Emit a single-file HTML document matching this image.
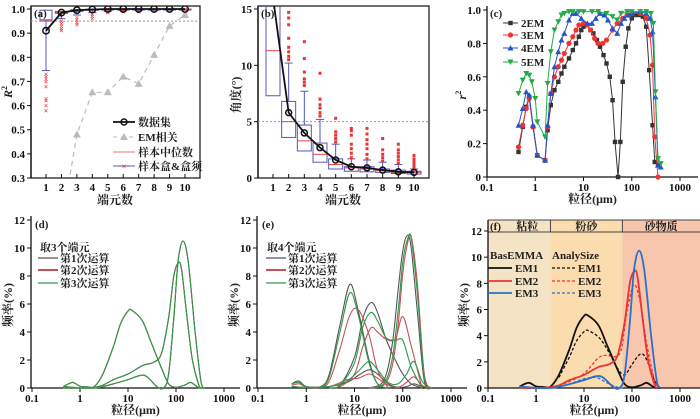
<!DOCTYPE html>
<html><head><meta charset="utf-8"><style>
html,body{margin:0;padding:0;background:#fff;}
svg{display:block;font-family:"Liberation Serif","Noto Serif CJK SC",serif;}
.tk{font-size:11px;font-weight:bold;fill:#111;}
.lb{font-size:12px;font-weight:bold;fill:#222;}
.lg{font-size:11px;font-weight:bold;fill:#222;}
.ox{font-size:8px;font-weight:bold;fill:#e33;}
</style></head><body>
<svg id="fig" width="700" height="419" viewBox="0 0 700 419" xmlns="http://www.w3.org/2000/svg"></svg>
<script>
// ---------- DATA ----------
// (a)
const aCats=[1,2,3,4,5,6,7,8,9,10];
const aData=[0.91,0.985,0.995,0.998,1.0,1.0,1.0,1.0,1.0,1.0];
const aEM=[0.0,0.1,0.48,0.655,0.655,0.72,0.69,0.81,0.93,0.975];
const aQ1=[0.955,0.982,0.99,0.995,0.997,0.998,0.998,0.999,0.999,0.999];
const aMed=[0.95,0.985,0.993,0.997,0.998,0.999,0.999,0.999,1.0,1.0];
const aQ3=[0.995,0.99,0.997,0.999,1.0,1.0,1.0,1.0,1.0,1.0];
const aWlo=[0.745,0.96,0.975,0.985,0.99,0.993,0.994,0.995,0.996,0.997];
const aOut=[[0.58,0.6,0.62,0.63,0.68,0.7,0.71,0.72,0.73],[0.91,0.92,0.93,0.94,0.95],[0.935,0.945,0.955,0.965],[0.96,0.97,0.98],[0.985,0.99],[0.99,0.995],[0.99,0.995],[0.995],[0.995],[0.997]];
// (b)
const bCats=[1,2,3,4,5,6,7,8,9,10];
const bData=[16,5.8,4.0,2.7,1.6,1.0,0.9,0.7,0.55,0.5];
const bQ1=[7.3,3.6,2.4,1.4,0.8,0.6,0.55,0.5,0.4,0.35];
const bMed=[11.3,5.0,3.3,2.1,1.2,0.9,0.8,0.65,0.5,0.5];
const bQ3=[16,6.8,4.7,3.1,1.7,1.0,1.0,0.8,0.7,0.6];
const bWhi=[16,10.2,7.7,5.2,3.0,1.7,1.6,1.4,1.2,0.8];
const bOut=[[],[10.5,10.8,11.2,11.6,12.4,13.6,14.2,14.7],[8.2,8.5,8.8,9.4,10.6,12.1],[5.5,5.8,6.2,6.5,7.0,9.3],[3.2,3.5,3.8,4.1,5.3],[1.8,2.2,2.6,3.0,3.8,4.2,4.4],[1.7,2.1,2.6,3.0,3.4,3.9,4.4],[1.5,1.8,2.1,2.5,3.5],[1.3,1.6,1.9,2.2,2.5,3.0],[0.9,1.1,1.3,1.5,1.7,2.0]];
// (c)
const c2x=[0.45,0.55,0.65,0.75,0.9,1.1,1.6,1.8,2.1,2.5,3,3.5,4,5,6,7,8,9,10,12,14,16,19,22,26,30,35,40,45,52,58,65,75,85,100,115,140,170,200,230,270,300,350];
const c2y=[0.15,0.3,0.42,0.48,0.3,0.13,0.1,0.28,0.43,0.52,0.57,0.62,0.66,0.71,0.76,0.8,0.84,0.88,0.9,0.91,0.88,0.86,0.82,0.78,0.73,0.68,0.6,0.46,0.21,0,0.21,0.57,0.78,0.89,0.95,0.97,0.97,0.96,0.9,0.64,0.31,0.09,0.07];
const c3x=[0.45,0.55,0.65,0.75,0.9,1.1,1.6,1.8,2.1,2.5,3,3.5,4,5,6,7,8,10,12,14,17,20,25,30,40,50,65,80,100,150,200,240,270,300,350];
const c3y=[0.18,0.31,0.41,0.47,0.3,0.13,0.1,0.3,0.5,0.6,0.66,0.7,0.74,0.8,0.84,0.88,0.91,0.92,0.91,0.88,0.83,0.8,0.8,0.82,0.88,0.92,0.95,0.97,0.98,0.98,0.95,0.85,0.67,0.24,0.0];
const c4x=[0.45,0.55,0.65,0.75,0.9,1.1,1.6,1.8,2.1,2.5,3,3.5,4,5,6,7,9,12,15,18,22,27,32,40,50,60,70,85,100,150,200,240,270,310,350,400];
const c4y=[0.31,0.41,0.51,0.49,0.31,0.13,0.1,0.31,0.5,0.66,0.75,0.82,0.86,0.94,0.98,0.98,0.95,0.92,0.92,0.95,0.98,0.97,0.94,0.89,0.86,0.92,0.95,0.97,0.98,0.99,0.98,0.95,0.87,0.48,0.07,0.06];
const c5x=[0.45,0.55,0.65,0.75,0.85,1,1.1,1.6,1.8,2.1,2.5,3,3.5,4,5,6,8,10,15,20,30,40,50,60,80,100,150,200,250,280,310,350,400];
const c5y=[0.5,0.58,0.62,0.61,0.57,0.47,0.33,0.24,0.56,0.75,0.88,0.93,0.97,0.98,0.99,0.99,0.99,0.99,0.99,0.99,0.98,0.96,0.94,0.98,0.99,0.99,0.99,0.99,0.98,0.92,0.51,0.11,0.08];
// (d) / (f) base end-members
const em1x=[0.45,0.7,1,1.5,2,3,5,7,10,12,20,30,50,70,100,150,200,250,300,400];
const em1y=[0.1,0.4,0.12,0.08,0.1,1.0,3.0,4.6,5.5,5.55,4.8,3.3,1.4,0.3,0.05,0.2,0.4,0.2,0.02,0];
const em2x=[0.45,1,2,3,5,10,20,35,50,70,90,110,130,170,220,300,350];
const em2y=[0,0,0.05,0.2,0.6,1.0,1.6,1.85,2.5,5,8,8.9,8.5,5,2,0.2,0];
const em3x=[0.45,0.7,1,2,3,5,10,18,25,40,55,70,90,110,140,180,250,330,400];
const em3y=[0.1,0.05,0,0,0.1,0.3,0.6,0.9,0.8,0.1,0,1,5,9,10.5,9,4,0.5,0];
const dm1x=[3,5,7,10,12,20,30,50,70,100,150,200,300,400];
const dm1y=[0.8,2.4,3.6,4.3,4.4,3.9,3,1.5,1.0,1.8,2.6,2.2,0.5,0];
const dm2x=[3,5,10,20,30,45,60,80,110,150,200,300,400];
const dm2y=[0.2,0.5,1.1,2.3,2.5,2.4,3,6,7.9,6.5,3.5,0.5,0];
const dm3x=[3,5,10,18,30,50,70];
const dm3y=[0.1,0.3,0.7,0.8,0.4,0.05,0];
// (e) four end-members, three runs
const eAx=[0.5,0.7,1,2,3,5,8,12,20,30,50];
const eR1A=[0.3,0.5,0.1,0.1,1.0,4.5,7.4,5.5,2.0,0.3,0];
const eR2A=[0.2,0.3,0.1,0.1,0.5,2.8,5.2,5.6,3.8,1.3,0];
const eR3A=[0.3,0.4,0.1,0.1,0.8,4.0,6.8,5.2,1.8,0.3,0];
const eBx=[3,5,10,15,22,30,45,70,100,150,250];
const eR1B=[0,0.2,2.2,5.0,6.1,5.4,3.5,2.0,1.0,0.3,0];
const eR2B=[0,0.1,1.0,3.0,4.3,4.0,3.5,3.5,5.1,3.0,0];
const eR3B=[0,0.2,1.8,4.4,5.4,4.8,3.6,3.4,3.4,1.5,0];
const eCx=[20,40,60,80,100,125,150,200,280,400];
const eR1C=[0,0.5,3.0,7.0,9.8,10.9,10.0,5.5,0.5,0];
const eR2C=[0,0.2,1.5,4.5,8.2,10.3,10.8,7.5,1.0,0];
const eR3C=[0,0.3,2.0,5.5,9.0,10.6,10.7,6.8,0.8,0];
const eDx=[0.5,1,3,7,12,20,30,50,80,120,170,250,350];
const eR1D=[0.1,0.05,0.1,0.4,0.9,1.3,1.0,0.3,0.05,0.1,0.3,0.1,0];
const eR2D=[0.1,0.05,0.1,0.6,0.7,1.0,0.7,0.2,0.05,0.4,0.8,0.2,0];
const eR3D=[0.1,0.05,0.1,0.5,1.2,1.9,1.3,0.4,0.3,1.0,1.9,0.5,0];

// ---------- HELPERS ----------
const NS="http://www.w3.org/2000/svg";
const svg=document.getElementById('fig');
function mk(tag,attrs,parent){const e=document.createElementNS(NS,tag);for(const k in attrs)e.setAttribute(k,attrs[k]);(parent||svg).appendChild(e);return e;}
function txt(x,y,s,cls,parent,extra){const t=mk('text',Object.assign({x:x,y:y,class:cls},extra||{}),parent);t.textContent=s;return t;}
function lin(d0,d1,r0,r1){return v=>r0+(v-d0)/(d1-d0)*(r1-r0);}
function logs(r0,r1){return v=>r0+(Math.log10(v)+1)/4*(r1-r0);}
function smooth(pts){let d='M'+pts[0][0].toFixed(1)+','+pts[0][1].toFixed(1);for(let i=0;i<pts.length-1;i++){const p0=pts[i-1]||pts[i],p1=pts[i],p2=pts[i+1],p3=pts[i+2]||p2;const c1=[p1[0]+(p2[0]-p0[0])/6,p1[1]+(p2[1]-p0[1])/6],c2=[p2[0]-(p3[0]-p1[0])/6,p2[1]-(p3[1]-p1[1])/6];d+='C'+c1[0].toFixed(1)+','+c1[1].toFixed(1)+' '+c2[0].toFixed(1)+','+c2[1].toFixed(1)+' '+p2[0].toFixed(1)+','+p2[1].toFixed(1);}return d;}
function curve(g,xs,ys,sx,sy,color,w,dash,base){const pts=xs.map((x,i)=>[sx(x),Math.min(sy(ys[i]),base)]);const p=mk('path',{d:smooth(pts),fill:'none',stroke:color,'stroke-width':w,'stroke-dasharray':dash||'none'},g);return p;}
function clip(id,x,y,w,h){const c=mk('clipPath',{id:id});mk('rect',{x:x,y:y,width:w,height:h},c);}
function logAxis(g,sx,y0,x0,x1,ttl){mk('line',{x1:x0,y1:y0,x2:x1,y2:y0,stroke:'#111','stroke-width':1.3},g);const labs=['0.1','1','10','100','1000'];[0.1,1,10,100,1000].forEach((v,i)=>{mk('line',{x1:sx(v),y1:y0,x2:sx(v),y2:y0+4,stroke:'#111'},g);txt(sx(v),y0+14,labs[i],'tk',g,{'text-anchor':'middle'});});txt((x0+x1)/2,y0+26,ttl,'lb',g,{'text-anchor':'middle'});}
function yAxis(g,sy,x0,y0,y1,ticks,labels){mk('line',{x1:x0,y1:y0,x2:x0,y2:y1,stroke:'#111','stroke-width':1.3},g);ticks.forEach((v,i)=>{mk('line',{x1:x0-4,y1:sy(v),x2:x0,y2:sy(v),stroke:'#111'},g);txt(x0-6,sy(v)+4,labels[i],'tk',g,{'text-anchor':'end'});});}
function supLabel(g,x,y,base,sup){const t=mk('text',{x:x,y:y,class:'lb','font-style':'italic','text-anchor':'middle',transform:`rotate(-90 ${x} ${y})`},g);t.appendChild(document.createTextNode(base));const s=mk('tspan',{'font-size':'8','dy':'-5','font-style':'normal'},t);s.textContent=sup;return t;}

// ---------- PANEL A ----------
(function(){
const g=mk('g',{});
const sx=lin(1,10,46,185),sy=lin(0.3,1.0,178,9);
clip('ca',31,6,169,172);
mk('rect',{x:31,y:6,width:169,height:172,fill:'none',stroke:'#222','stroke-width':1.3},g);
const yt=[0.3,0.4,0.5,0.6,0.7,0.8,0.9,1.0];yAxis(g,sy,31,178,6,yt,yt.map(v=>v.toFixed(1)));
aCats.forEach(c=>{mk('line',{x1:sx(c),y1:178,x2:sx(c),y2:174,stroke:'#111'},g);txt(sx(c),191,String(c),'tk',g,{'text-anchor':'middle'});});
txt(115,204,'端元数','lb',g,{'text-anchor':'middle'});
supLabel(g,12,92,'R','2');
const pc=mk('g',{'clip-path':'url(#ca)'},g);
mk('line',{x1:31,y1:sy(0.95),x2:200,y2:sy(0.95),stroke:'#999','stroke-dasharray':'2,2'},pc);
mk('polyline',{points:aCats.map((c,i)=>sx(c)+','+sy(aEM[i])).join(' '),fill:'none',stroke:'#bbb','stroke-width':1.2,'stroke-dasharray':'5,4'},pc);
aCats.forEach((c,i)=>{const x=sx(c),y=sy(aEM[i]);const t=mk('path',{d:`M${x-4},${y+3}L${x+4},${y+3}L${x},${y-4}Z`,fill:'#bbb'},pc);});
aCats.forEach((c,i)=>{const x=sx(c);
 mk('line',{x1:x,y1:sy(aWlo[i]),x2:x,y2:sy(aQ1[i]),stroke:'#5555bb'},pc);
 mk('line',{x1:x-4,y1:sy(aWlo[i]),x2:x+4,y2:sy(aWlo[i]),stroke:'#5555bb'},pc);
 const b=mk('rect',{x:x-6,y:sy(aQ3[i]),width:12,height:Math.max(1,sy(aQ1[i])-sy(aQ3[i])),fill:'none',stroke:'#5555bb'},pc);
 mk('line',{x1:x-6,y1:sy(aMed[i]),x2:x+6,y2:sy(aMed[i]),stroke:'#ee4444'},pc);
 aOut[i].forEach(v=>{const o=txt(x,sy(v)+3,'×','ox',pc,{'text-anchor':'middle'});});
});
mk('polyline',{points:aCats.map((c,i)=>sx(c)+','+sy(aData[i])).join(' '),fill:'none',stroke:'#111','stroke-width':1.8},pc);
aCats.forEach((c,i)=>{const p=mk('circle',{cx:sx(c),cy:sy(aData[i]),r:3.2,fill:'none',stroke:'#111','stroke-width':1.5},pc);});
txt(34,17,'(a)','lg',g);
const L=mk('g',{},g);
mk('line',{x1:113,y1:122,x2:135,y2:122,stroke:'#111','stroke-width':1.8},L);mk('circle',{cx:124,cy:122,r:3,fill:'none',stroke:'#111','stroke-width':1.5},L);txt(138,126,'数据集','lg',L);
mk('line',{x1:113,y1:137,x2:135,y2:137,stroke:'#bbb','stroke-dasharray':'4,4'},L);mk('path',{d:'M120,140L128,140L124,133Z',fill:'#bbb'},L);txt(138,141,'EM相关','lg',L);
mk('line',{x1:113,y1:152,x2:135,y2:152,stroke:'#ee7777'},L);txt(138,156,'样本中位数','lg',L);
mk('line',{x1:113,y1:166,x2:135,y2:166,stroke:'#5555bb'},L);txt(124,169,'×','ox',L,{'text-anchor':'middle'});txt(138,170,'样本盒&盒须','lg',L);
})();

// ---------- PANEL B ----------
(function(){
const g=mk('g',{});
const sx=lin(1,10,273,414),sy=lin(0,15,178,9);
clip('cb',258,6,171,172);
mk('rect',{x:258,y:6,width:171,height:172,fill:'none',stroke:'#222','stroke-width':1.3},g);
yAxis(g,sy,258,178,6,[0,5,10,15],['0','5','10','15']);
bCats.forEach(c=>{mk('line',{x1:sx(c),y1:178,x2:sx(c),y2:174,stroke:'#111'},g);txt(sx(c),191,String(c),'tk',g,{'text-anchor':'middle'});});
txt(343,204,'端元数','lb',g,{'text-anchor':'middle'});
txt(240,95,'角度(°)','lb',g,{'text-anchor':'middle',transform:'rotate(-90 240 95)'});
const pc=mk('g',{'clip-path':'url(#cb)'},g);
mk('line',{x1:258,y1:sy(5),x2:429,y2:sy(5),stroke:'#999','stroke-dasharray':'2,2'},pc);
bCats.forEach((c,i)=>{const x=sx(c);
 mk('line',{x1:x,y1:sy(bWhi[i]),x2:x,y2:sy(bQ3[i]),stroke:'#5555bb'},pc);
 mk('line',{x1:x-4,y1:sy(bWhi[i]),x2:x+4,y2:sy(bWhi[i]),stroke:'#5555bb'},pc);
 const b=mk('rect',{x:x-7,y:sy(bQ3[i]),width:14,height:sy(bQ1[i])-sy(bQ3[i]),fill:'none',stroke:'#5555bb'},pc);
 mk('line',{x1:x-7,y1:sy(bMed[i]),x2:x+7,y2:sy(bMed[i]),stroke:'#ee4444'},pc);
 bOut[i].forEach(v=>{const o=mk('rect',{x:x-1.5,y:sy(v)-1.5,width:3,height:3,fill:'#e33'},pc);});
});
mk('polyline',{points:bCats.map((c,i)=>sx(c)+','+sy(bData[i])).join(' '),fill:'none',stroke:'#111','stroke-width':1.8},pc);
bCats.forEach((c,i)=>{const p=mk('circle',{cx:sx(c),cy:sy(bData[i]),r:3,fill:'none',stroke:'#111','stroke-width':1.5},pc);});
txt(261,17,'(b)','lg',g);
})();

// ---------- PANEL C ----------
(function(){
const g=mk('g',{});
const sx=logs(487,680),sy=lin(0,1,177,10);
yAxis(g,sy,487,177,6,[0,0.2,0.4,0.6,0.8,1.0],['0','0.2','0.4','0.6','0.8','1.0']);
logAxis(g,sx,177,487,698,'粒径(μm)');
supLabel(g,466,95,'r','2');
const S=[[c2x,c2y,'#333','sq','2EM'],[c3x,c3y,'#e33','ci','3EM'],[c4x,c4y,'#2255cc','tr','4EM'],[c5x,c5y,'#22aa44','it','5EM']];
function mark(p,x,y,c,t){let e;if(t==='sq')e=mk('rect',{x:x-2.2,y:y-2.2,width:4.4,height:4.4,fill:c},p);else if(t==='ci')e=mk('circle',{cx:x,cy:y,r:2.6,fill:c},p);else if(t==='tr')e=mk('path',{d:`M${x-3},${y+2.5}L${x+3},${y+2.5}L${x},${y-3}Z`,fill:c},p);else e=mk('path',{d:`M${x-3},${y-2.5}L${x+3},${y-2.5}L${x},${y+3}Z`,fill:c},p);return e;}
S.forEach((s,k)=>{const sg=mk('g',{},g);
 mk('polyline',{points:s[0].map((x,i)=>sx(x)+','+sy(s[1][i])).join(' '),fill:'none',stroke:s[2],'stroke-width':1},sg);
 s[0].forEach((x,i)=>{const m=mark(sg,sx(x),sy(s[1][i]),s[2],s[3]);});
 const ly=[23,35,48,62][k];mk('line',{x1:503,y1:ly,x2:518,y2:ly,stroke:s[2]},g);mark(g,510.5,ly,s[2],s[3]);txt(521,ly+4,s[4],'lg',g);
});
txt(490,17,'(c)','lg',g);
})();

// ---------- PANEL D ----------
(function(){
const g=mk('g',{});
const sx=logs(32,224),sy=lin(0,12,388,220);
yAxis(g,sy,31,388,216,[0,2,4,6,8,10,12],['0','2','4','6','8','10','12']);
logAxis(g,sx,388,31,240,'粒径(μm)');
txt(12,305,'频率(%)','lb',g,{'text-anchor':'middle',transform:'rotate(-90 12 305)'});
const cols=['#555','#c8505a','#2e9a4a'];
cols.forEach(c=>{[[em1x,em1y],[em2x,em2y],[em3x,em3y]].forEach(s=>curve(g,s[0],s[1],sx,sy,c,1.1,null,388));});
txt(35,228,'(d)','lg',g);
txt(40,251,'取3个端元','lg',g);
['第1次运算','第2次运算','第3次运算'].forEach((s,i)=>{const y=[258,270,283][i];mk('line',{x1:38,y1:y,x2:58,y2:y,stroke:cols[i],'stroke-width':i==1?2:1.2},g);txt(60,y+4,s,'lg',g);});
})();

// ---------- PANEL E ----------
(function(){
const g=mk('g',{});
const sx=logs(258,451),sy=lin(0,12,388,220);
yAxis(g,sy,257,388,216,[0,2,4,6,8,10,12],['0','2','4','6','8','10','12']);
logAxis(g,sx,388,257,467,'粒径(μm)');
txt(238,305,'频率(%)','lb',g,{'text-anchor':'middle',transform:'rotate(-90 238 305)'});
const cols=['#555','#c8505a','#2e9a4a'];
const runs=[[eR1A,eR1B,eR1C,eR1D],[eR2A,eR2B,eR2C,eR2D],[eR3A,eR3B,eR3C,eR3D]];
const xs=[eAx,eBx,eCx,eDx];
runs.forEach((r,k)=>r.forEach((ys,j)=>curve(g,xs[j],ys,sx,sy,cols[k],1.1,null,388)));
txt(262,228,'(e)','lg',g);
txt(267,251,'取4个端元','lg',g);
['第1次运算','第2次运算','第3次运算'].forEach((s,i)=>{const y=[258,270,283][i];mk('line',{x1:266,y1:y,x2:286,y2:y,stroke:cols[i],'stroke-width':i==1?2:1.2},g);txt(288,y+4,s,'lg',g);});
})();

// ---------- PANEL F ----------
(function(){
const g=mk('g',{});
const sx=logs(488,680),sy=lin(0,12,388,231);
const xc=sx(2),xs=sx(63);
mk('rect',{x:488,y:220,width:xc-488,height:168,fill:'#f4e3c4'},g);
mk('rect',{x:xc,y:220,width:xs-xc,height:168,fill:'#fbdcae'},g);
mk('rect',{x:xs,y:220,width:700-xs,height:168,fill:'#f7c6ad'},g);
mk('line',{x1:488,y1:220,x2:700,y2:220,stroke:'#444'},g);
mk('line',{x1:488,y1:232,x2:700,y2:232,stroke:'#444'},g);
mk('line',{x1:xc,y1:220,x2:xc,y2:232,stroke:'#444'},g);
mk('line',{x1:xs,y1:220,x2:xs,y2:232,stroke:'#444'},g);
txt(490,230,'(f)','lg',g);
txt((488+xc)/2+8,230,'粘粒','lg',g,{'text-anchor':'middle'});
txt((xc+xs)/2,230,'粉砂','lg',g,{'text-anchor':'middle'});
txt((xs+700)/2,230,'砂物质','lg',g,{'text-anchor':'middle'});
yAxis(g,sy,488,388,220,[0,2,4,6,8,10,12],['0','2','4','6','8','10','12']);
logAxis(g,sx,388,488,700,'粒径(μm)');
txt(468,305,'频率(%)','lb',g,{'text-anchor':'middle',transform:'rotate(-90 468 305)'});
curve(g,dm1x,dm1y,sx,sy,'#111',1.3,'3,2',388);
curve(g,dm2x,dm2y,sx,sy,'#e33',1.3,'3,2',388);
curve(g,dm3x,dm3y,sx,sy,'#2a6fc9',1.3,'3,2',388);
curve(g,em1x,em1y,sx,sy,'#111',1.8,null,388);
curve(g,em2x,em2y,sx,sy,'#e33',1.8,null,388);
curve(g,em3x,em3y,sx,sy,'#2a6fc9',1.8,null,388);
txt(490,259,'BasEMMA','lg',g);txt(552,259,'AnalySize','lg',g);
const cc=['#111','#e33','#2a6fc9'];
['EM1','EM2','EM3'].forEach((s,i)=>{const y=[268,281,293][i];
 mk('line',{x1:488,y1:y,x2:512,y2:y,stroke:cc[i],'stroke-width':1.8},g);txt(515,y+4,s,'lg',g);
 mk('line',{x1:552,y1:y,x2:575,y2:y,stroke:cc[i],'stroke-width':1.3,'stroke-dasharray':'3,2'},g);txt(578,y+4,s,'lg',g);});
})();
</script>
</body></html>
